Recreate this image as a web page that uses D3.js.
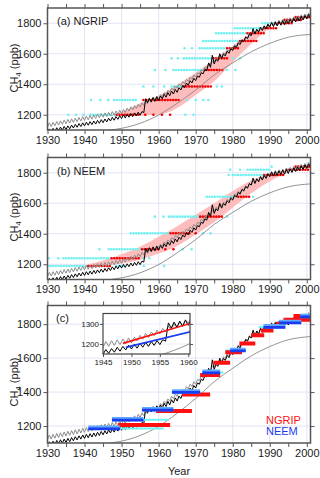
<!DOCTYPE html>
<html>
<head>
<meta charset="utf-8">
<script src="https://d3js.org/d3.v7.min.js"></script>
<style>
  body { margin: 0; background: #fff; }
  text { font-family: "Liberation Sans", Arial, sans-serif; fill: #1a1a1a; }
  .axis text { font-size: 11px; }
  .axis line { stroke: #555; stroke-width: 1; }
  .inset .axis text { font-size: 8px; }
</style>
</head>
<body>
<div class="chart"></div>
<script>
// ---- data: atmospheric CH4 histories (yearly trough / peak, ppb) ----
const years = d3.range(1930, 2002);

const blackLo = [1083,1087,1091,1095,1099,1103,1108,1113,1118,1123,
  1127,1131,1135,1139,1144,1148,1153,1159,1164,1170,
  1175,1179,1184,1188,1193,1197,1214,1279,1284,1288,
  1293,1304,1315,1325,1336,1347,1362,1378,1393,1409,
  1424,1446,1468,1489,1511,1533,1551,1568,1586,1603,
  1621,1641,1660,1680,1699,1719,1730,1741,1752,1763,
  1774,1778,1782,1787,1791,1795,1802,1808,1815,1821,
  1828,1833];
const blackHi = [1107,1111,1115,1119,1123,1127,1132,1137,1142,1147,
  1151,1155,1159,1163,1168,1172,1177,1183,1188,1194,
  1199,1203,1208,1212,1217,1221,1305,1309,1314,1318,
  1323,1334,1345,1355,1366,1377,1392,1408,1423,1439,
  1454,1476,1498,1540,1590,1563,1600,1598,1616,1633,
  1651,1671,1690,1710,1729,1765,1760,1775,1782,1793,
  1804,1808,1812,1817,1821,1825,1832,1838,1845,1851,
  1858,1863];
const grayLo = [1119,1123,1128,1132,1137,1141,1145,1150,1154,1159,
  1163,1167,1171,1176,1180,1184,1188,1193,1197,1202,
  1206,1215,1224,1232,1241,1250,1261,1272,1282,1293,
  1304,1318,1332,1347,1361,1375,1389,1404,1418,1433,
  1447,1467,1486,1506,1525,1545,1562,1580,1597,1615,
  1632,1650,1667,1685,1702,1720,1732,1744,1757,1769,
  1781,1786,1791,1797,1802,1807,1814,1820,1827,1833,
  1840,1844];
const grayHi = [1147,1151,1156,1160,1165,1169,1173,1178,1182,1187,
  1191,1195,1199,1204,1208,1212,1216,1221,1225,1230,
  1234,1243,1252,1260,1269,1278,1289,1300,1310,1321,
  1332,1346,1360,1375,1389,1403,1417,1432,1446,1461,
  1475,1495,1514,1534,1553,1573,1590,1608,1625,1643,
  1660,1678,1695,1713,1730,1748,1760,1772,1785,1797,
  1809,1814,1819,1825,1830,1835,1842,1848,1855,1861,
  1868,1872];

// thin smooth grey curve
const smoothYears = [1930, 1940, 1947, 1950, 1955, 1960, 1965, 1970, 1975, 1980, 1985, 1990, 1995, 2001];
const smoothVals  = [1050, 1075, 1100, 1111, 1144, 1198, 1275, 1362, 1461, 1540, 1613, 1668, 1708, 1727];

// pink bands
const bandAYears = [1949, 1952, 1955, 1960, 1965, 1970, 1975, 1980, 1985, 1990];
const bandALo    = [1200, 1195, 1195, 1200, 1245, 1330, 1420, 1545, 1665, 1770];
const bandAHi    = [1210, 1240, 1275, 1325, 1395, 1475, 1560, 1650, 1735, 1790];
const bandBYears = [1941, 1945, 1950, 1955, 1960, 1965, 1970, 1975, 1980, 1985, 1990, 1995];
const bandBLo    = [1192, 1190, 1205, 1230, 1270, 1320, 1395, 1475, 1570, 1665, 1745, 1800];
const bandBHi    = [1200, 1225, 1265, 1315, 1380, 1450, 1525, 1600, 1680, 1750, 1795, 1820];

// dot rows: level (ppb), dense runs and single dots (years)
const ngripRows = [
  { ppb: 1200, cyan: [[1941.5, 1948.2]], cyanPts: [1935.6, 1937.7, 1939.7, 1967.2, 1969.4], red: [[1948.7, 1955]], redPts: [1956.4, 1958.6, 1960.9, 1963.1] },
  { ppb: 1297, cyan: [[1948, 1954.5]], cyanPts: [1941.8, 1944.3, 1946.4, 1967.8, 1970, 1972, 1973.4], red: [[1955.9, 1965.8]], redPts: [] },
  { ppb: 1385, cyan: [[1963.5, 1966.5]], cyanPts: [1955.9, 1958.6, 1961.5, 1975.7, 1977.1], red: [[1966.8, 1974.4]], redPts: [] },
  { ppb: 1493, cyan: [[1964, 1972.5]], cyanPts: [1959, 1961.8, 1978.4, 1980.7], red: [[1972.8, 1977.2]], redPts: [] },
  { ppb: 1570, cyan: [[1966.8, 1974.5]], cyanPts: [1963.5, 1965.2, 1980.2, 1982], red: [[1974.8, 1979]], redPts: [] },
  { ppb: 1636, cyan: [[1971, 1978.3]], cyanPts: [1967, 1969], red: [[1978.5, 1981.5]], redPts: [] },
  { ppb: 1684, cyan: [[1972, 1981.5]], cyanPts: [], red: [[1982, 1987]], redPts: [] },
  { ppb: 1734, cyan: [[1975.5, 1983.8]], cyanPts: [], red: [[1984, 1989]], redPts: [] },
  { ppb: 1767, cyan: [[1980.5, 1988.5]], cyanPts: [], red: [[1988.8, 1992]], redPts: [] },
  { ppb: 1800, cyan: [[1988, 1991.3]], cyanPts: [], red: [[1991.5, 1996]], redPts: [] },
  { ppb: 1822, cyan: [], cyanPts: [], red: [[1994, 1999]], redPts: [] },
  { ppb: 1840, cyan: [], cyanPts: [], red: [[1997, 2001]], redPts: [] }
];
const neemRows = [
  { ppb: 1189, cyan: [[1930, 1940.5], [1948.5, 1951]], cyanPts: [1956, 1961.5], red: [[1941, 1947.5]], redPts: [] },
  { ppb: 1239, cyan: [[1934.3, 1947]], cyanPts: [1930.3, 1932.9, 1956, 1957.5], red: [[1947.3, 1955]], redPts: [] },
  { ppb: 1298, cyan: [[1946.5, 1955.3]], cyanPts: [1944, 1966.5, 1968.9], red: [[1955.5, 1960]], redPts: [1961.8, 1964] },
  { ppb: 1403, cyan: [[1952.5, 1963]], cyanPts: [1972, 1974], red: [[1963.2, 1968.5]], redPts: [1970] },
  { ppb: 1512, cyan: [[1962.8, 1971]], cyanPts: [1959, 1961.3, 1978.5], red: [[1971.2, 1977.5]], redPts: [] },
  { ppb: 1643, cyan: [[1973, 1981.3]], cyanPts: [1985.5], red: [[1981.5, 1984.7]], redPts: [] },
  { ppb: 1785, cyan: [[1980, 1988.3]], cyanPts: [1978.9], red: [[1988.5, 1994]], redPts: [] },
  { ppb: 1820, cyan: [[1984, 1990]], cyanPts: [1979.3, 1982], red: [[1994.5, 2000.5]], redPts: [] },
  { ppb: 1840, cyan: [], cyanPts: [1990.5], red: [[1997, 2001]], redPts: [] }
];

// panel (c) age bars: [ppb, start, end]
const ngripBars = [[1206, 1949.1, 1963.1], [1288, 1959.3, 1969], [1386, 1966.3, 1973.9], [1500, 1971.2, 1976.6],
  [1573, 1974.8, 1979.3], [1635, 1978, 1982.5], [1686, 1981.8, 1986.1], [1735, 1985, 1988.5],
  [1762, 1987.6, 1991], [1802, 1991.7, 1993.5], [1826, 1993.7, 2001], [1848, 1996.4, 2001]];
const neemBars = [[1186, 1941, 1949.6], [1237, 1947.4, 1955.9], [1296, 1955.5, 1964], [1400, 1963.6, 1971.2],
  [1516, 1971.8, 1976.6], [1645, 1979.3, 1983.5], [1784, 1988.3, 1994.2], [1810, 1992.5, 1998.5], [1845, 1998.2, 2001]];
const neemWide = [[1186, 1949.3, 1961.3], [1237, 1955.9, 1962.6], [1516, 1975.5, 1977.5],
  [1645, 1978, 1981], [1784, 1987, 1988.8], [1843, 1999.5, 2001]];

// inset trend lines
const insetNgripYears = [1948.5, 1961];
const insetNgripVals = [1203, 1308];
const insetNeemYears = [1949, 1961];
const insetNeemVals = [1183, 1265];

// ---- layout ----
let svgWidth = 320, svgHeight = 478;
let left = 47.5, right = 310.5;

let svg = d3.select(".chart").append("svg")
  .attr("width", svgWidth)
  .attr("height", svgHeight);

let x = d3.scaleLinear().domain([1930, 2001]).range([left, right]);

function zigzag(lo, hi) {
  let pts = [];
  years.forEach((yr, i) => { pts.push([yr, lo[i]]); pts.push([yr + 0.5, hi[i]]); });
  return pts;
}
const blackPts = zigzag(blackLo, blackHi);
const grayPts = zigzag(grayLo, grayHi);

function makePanel(id, top, bottom, yDomain, titleY) {
  let y = d3.scaleLinear().domain(yDomain).range([bottom, top]);
  let g = svg.append("g");

  svg.append("clipPath").attr("id", "clip" + id)
    .append("rect").attr("x", left).attr("y", top)
    .attr("width", right - left).attr("height", bottom - top);

  // grid
  g.selectAll(".vg").data(d3.range(1940, 2001, 10)).enter().append("line")
    .attr("x1", d => x(d)).attr("x2", d => x(d)).attr("y1", top).attr("y2", bottom)
    .attr("stroke", "#dcdcf4").attr("stroke-width", 0.8);
  g.selectAll(".hg").data([1200, 1400, 1600, 1800]).enter().append("line")
    .attr("x1", left).attr("x2", right).attr("y1", d => y(d)).attr("y2", d => y(d))
    .attr("stroke", "#dcdcf4").attr("stroke-width", 0.8);

  // axes
  let yTicks = [1200, 1400, 1600, 1800];
  let xTicks = d3.range(1930, 2001, 5);
  g.append("g").attr("class", "axis").attr("transform", `translate(${left},0)`)
    .call(d3.axisLeft(y).tickValues(yTicks).tickSize(4).tickPadding(2).tickFormat(d3.format("d")));
  g.append("g").attr("class", "axis").attr("transform", `translate(${right},0)`)
    .call(d3.axisRight(y).tickValues(yTicks).tickSize(4).tickFormat(""));
  g.append("g").attr("class", "axis").attr("transform", `translate(0,${bottom})`)
    .call(d3.axisBottom(x).tickValues(xTicks).tickSize(4).tickPadding(2)
      .tickFormat(d => d % 10 === 0 ? d : ""));
  g.append("g").attr("class", "axis").attr("transform", `translate(0,${top})`)
    .call(d3.axisTop(x).tickValues(xTicks).tickSize(4).tickFormat(""));
  g.selectAll(".axis .domain").remove();

  let title = g.append("text")
    .attr("transform", `translate(18,${titleY}) rotate(-90)`)
    .attr("text-anchor", "middle")
    .style("font-size", "11px");
  title.append("tspan").text("CH");
  title.append("tspan").attr("dy", 2.5).style("font-size", "8px").text("4");
  title.append("tspan").attr("dy", -2.5).text(" (ppb)");

  let plot = g.append("g").attr("clip-path", `url(#clip${id})`);
  let frame = () => g.append("rect").attr("x", left).attr("y", top)
    .attr("width", right - left).attr("height", bottom - top)
    .attr("fill", "none").attr("stroke", "#555").attr("stroke-width", 1.5);
  return { y, g, plot, frame, top, bottom };
}

function drawBand(p, yrs, lo, hi) {
  let area = d3.area().x((d, i) => x(yrs[i])).y0((d, i) => p.y(lo[i])).y1((d, i) => p.y(hi[i]))
    .curve(d3.curveMonotoneX);
  p.plot.append("path").datum(yrs).attr("d", area).attr("fill", "#ffbcbc");
}

function drawRows(p, rows) {
  let cyan = "#72f0f0", red = "#f00000";
  rows.forEach(r => {
    r.cyan.forEach(s => p.plot.append("line")
      .attr("x1", x(s[0])).attr("x2", x(s[1])).attr("y1", p.y(r.ppb)).attr("y2", p.y(r.ppb))
      .attr("stroke", cyan).attr("stroke-width", 2.6).attr("stroke-linecap", "round")
      .attr("stroke-dasharray", "0 2.7"));
    p.plot.selectAll(null).data(r.cyanPts).enter().append("circle")
      .attr("cx", d => x(d)).attr("cy", p.y(r.ppb)).attr("r", 1.3).attr("fill", cyan);
  });
  rows.forEach(r => {
    r.red.forEach(s => p.plot.append("line")
      .attr("x1", x(s[0])).attr("x2", x(s[1])).attr("y1", p.y(r.ppb)).attr("y2", p.y(r.ppb))
      .attr("stroke", red).attr("stroke-width", 2.6).attr("stroke-linecap", "round")
      .attr("stroke-dasharray", "0 2.7"));
    p.plot.selectAll(null).data(r.redPts).enter().append("circle")
      .attr("cx", d => x(d)).attr("cy", p.y(r.ppb)).attr("r", 1.3).attr("fill", red);
  });
}

function drawCurves(target, xs, ys) {
  let line = d3.line().x(d => xs(d[0])).y(d => ys(d[1]));
  target.append("path").datum(grayPts).attr("d", line)
    .attr("fill", "none").attr("stroke", "#8c8c8c").attr("stroke-width", 1);
  target.append("path").datum(blackPts).attr("d", line)
    .attr("fill", "none").attr("stroke", "#000").attr("stroke-width", 1);
  let smooth = d3.line().x((d, i) => xs(d)).y((d, i) => ys(smoothVals[i])).curve(d3.curveMonotoneX);
  target.append("path").datum(smoothYears).attr("d", smooth)
    .attr("fill", "none").attr("stroke", "#888").attr("stroke-width", 0.9);
}

// ---- panel (a) NGRIP ----
let pa = makePanel("a", 8, 130, [1100, 1900], 68);
drawBand(pa, bandAYears, bandALo, bandAHi);
drawRows(pa, ngripRows);
drawCurves(pa.plot, x, pa.y);
pa.frame();
pa.g.append("text").attr("x", 57).attr("y", 25).style("font-size", "11px").text("(a) NGRIP");

// ---- panel (b) NEEM ----
let pb = makePanel("b", 157.5, 279.5, [1100, 1900], 217);
drawBand(pb, bandBYears, bandBLo, bandBHi);
drawRows(pb, neemRows);
drawCurves(pb.plot, x, pb.y);
pb.frame();
pb.g.append("text").attr("x", 57).attr("y", 175).style("font-size", "11px").text("(b) NEEM");

// ---- panel (c) comparison ----
let pc = makePanel("c", 305.5, 443, [1100, 1910], 382);
drawCurves(pc.plot, x, pc.y);
pc.plot.selectAll(".nw").data(neemWide).enter().append("line")
  .attr("x1", d => x(d[1])).attr("x2", d => x(d[2]))
  .attr("y1", d => pc.y(d[0])).attr("y2", d => pc.y(d[0]))
  .attr("stroke", "#6ff2f2").attr("stroke-width", 2);
pc.plot.selectAll(".ng").data(ngripBars).enter().append("line")
  .attr("x1", d => x(d[1])).attr("x2", d => x(d[2]))
  .attr("y1", d => pc.y(d[0])).attr("y2", d => pc.y(d[0]))
  .attr("stroke", "#ff1010").attr("stroke-width", 4);
pc.plot.selectAll(".nh").data(neemBars).enter().append("line")
  .attr("x1", d => x(d[1])).attr("x2", d => x(d[2]))
  .attr("y1", d => pc.y(d[0]) - 0.6).attr("y2", d => pc.y(d[0]) - 0.6)
  .attr("stroke", "#5fa8ff").attr("stroke-width", 4.4);
pc.plot.selectAll(".nb").data(neemBars).enter().append("line")
  .attr("x1", d => x(d[1])).attr("x2", d => x(d[2]))
  .attr("y1", d => pc.y(d[0]) + 0.4).attr("y2", d => pc.y(d[0]) + 0.4)
  .attr("stroke", "#1a3cf0").attr("stroke-width", 2.8);
pc.frame();
pc.g.append("text").attr("x", 56).attr("y", 322).style("font-size", "11px").text("(c)");
pc.g.append("text").attr("x", 266).attr("y", 423.5).style("font-size", "11px")
  .style("fill", "#ff1010").text("NGRIP");
pc.g.append("text").attr("x", 266).attr("y", 434.5).style("font-size", "11px")
  .style("fill", "#1a3cf0").text("NEEM");

svg.append("text").attr("x", (left + right) / 2).attr("y", 475)
  .attr("text-anchor", "middle").style("font-size", "11px").text("Year");

// ---- inset ----
let xi = d3.scaleLinear().domain([1945, 1960.3]).range([103, 190]);
let yi = d3.scaleLinear().domain([1150, 1352]).range([354, 313.5]);
let inset = svg.append("g").attr("class", "inset");
inset.append("rect").attr("x", 103).attr("y", 313.5).attr("width", 87).attr("height", 40.5).attr("fill", "#fff");
svg.append("clipPath").attr("id", "clipi")
  .append("rect").attr("x", 103).attr("y", 313.5).attr("width", 87).attr("height", 40.5);
inset.selectAll(".ivg").data([1950, 1955]).enter().append("line")
  .attr("x1", d => xi(d)).attr("x2", d => xi(d)).attr("y1", 313.5).attr("y2", 354)
  .attr("stroke", "#e4e4f6").attr("stroke-width", 0.7);
inset.selectAll(".ihg").data([1200, 1300]).enter().append("line")
  .attr("x1", 103).attr("x2", 190).attr("y1", d => yi(d)).attr("y2", d => yi(d))
  .attr("stroke", "#e4e4f6").attr("stroke-width", 0.7);
let ip = inset.append("g").attr("clip-path", "url(#clipi)");
drawCurves(ip, xi, yi);
let tline = d3.line().x(d => xi(d[0])).y(d => yi(d[1]));
ip.append("path").datum(insetNgripYears.map((d, i) => [d, insetNgripVals[i]])).attr("d", tline)
  .attr("fill", "none").attr("stroke", "#ff1010").attr("stroke-width", 1.6);
ip.append("path").datum(insetNeemYears.map((d, i) => [d, insetNeemVals[i]])).attr("d", tline)
  .attr("fill", "none").attr("stroke", "#1a3cf0").attr("stroke-width", 1.6);
inset.append("g").attr("class", "axis").attr("transform", "translate(103,0)")
  .call(d3.axisLeft(yi).tickValues([1200, 1300]).tickSize(3).tickPadding(1).tickFormat(d3.format("d")));
inset.append("g").attr("class", "axis").attr("transform", "translate(190,0)")
  .call(d3.axisRight(yi).tickValues([1200, 1300]).tickSize(3).tickFormat(""));
inset.append("g").attr("class", "axis").attr("transform", "translate(0,354)")
  .call(d3.axisBottom(xi).tickValues([1945, 1950, 1955, 1960]).tickSize(3).tickPadding(2).tickFormat(d3.format("d")));
inset.selectAll(".axis .domain").remove();
inset.append("rect").attr("x", 103).attr("y", 313.5).attr("width", 87).attr("height", 40.5)
  .attr("fill", "none").attr("stroke", "#444").attr("stroke-width", 1.2);
</script>
</body>
</html>
